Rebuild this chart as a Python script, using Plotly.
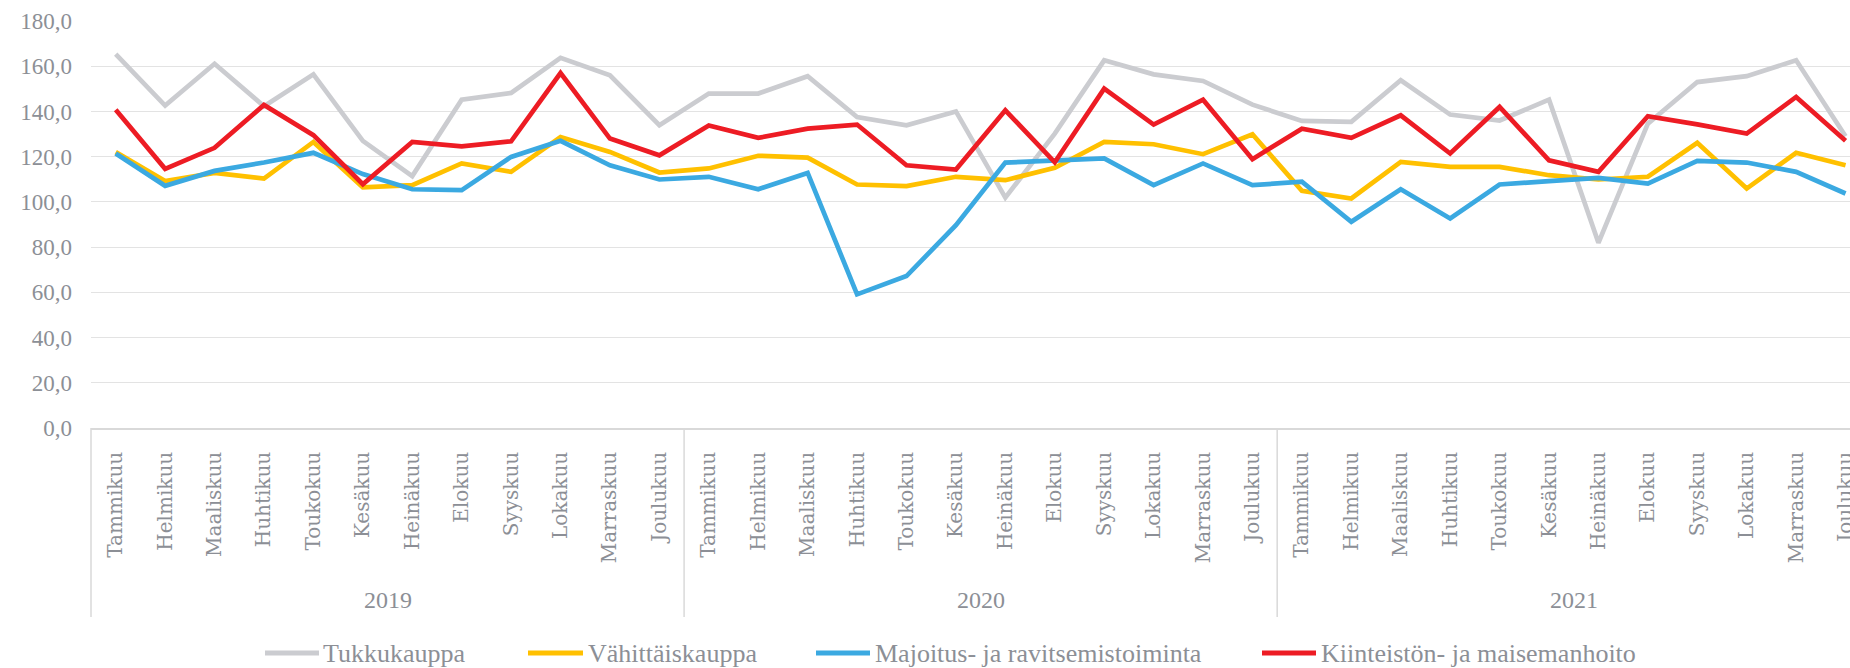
import plotly.graph_objects as go

# ---------------- data ----------------
years = ["2019", "2020", "2021"]
months = ["Tammikuu", "Helmikuu", "Maaliskuu", "Huhtikuu", "Toukokuu", "Kesäkuu",
          "Heinäkuu", "Elokuu", "Syyskuu", "Lokakuu", "Marraskuu", "Joulukuu"]
categories = [m for y in years for m in months]

series_names = ["Tukkukauppa", "Vähittäiskauppa",
                "Majoitus- ja ravitsemistoiminta", "Kiinteistön- ja maisemanhoito"]

tukkukauppa = [165.3, 142.6, 161.1, 142.3, 156.4, 127.0, 111.4, 145.2, 148.2, 163.7, 156.0, 133.9,
               147.9, 147.9, 155.6, 137.5, 133.9, 140.0, 101.9, 130.2, 162.6, 156.4, 153.5, 143.0,
               135.8, 135.4, 153.8, 138.6, 136.0, 145.2, 81.9, 134.6, 153.0, 155.6, 162.6, 129.0]

vahittaiskauppa = [122.0, 109.2, 112.8, 110.3, 126.5, 106.4, 107.4, 117.0, 113.3, 128.7, 122.1, 113.0,
                   114.8, 120.4, 119.6, 107.7, 107.0, 111.1, 109.6, 115.1, 126.5, 125.5, 121.1, 129.9,
                   104.9, 101.5, 117.7, 115.5, 115.5, 111.8, 109.9, 111.1, 126.1, 105.9, 121.7, 116.2]

majoitus = [121.4, 107.1, 113.7, 117.4, 121.7, 112.3, 105.6, 105.2, 119.9, 127.0, 116.2, 109.9,
            111.1, 105.6, 112.8, 59.1, 67.2, 89.7, 117.4, 118.4, 119.2, 107.4, 117.0, 107.4,
            108.9, 91.2, 105.6, 92.7, 107.7, 109.2, 110.6, 108.1, 118.1, 117.4, 113.3, 103.7]

kiinteisto = [140.8, 114.6, 123.9, 142.9, 129.5, 107.8, 126.5, 124.6, 126.8, 157.0, 128.0, 120.6,
              133.8, 128.3, 132.4, 134.2, 116.2, 114.3, 140.5, 117.5, 150.1, 134.2, 145.2, 118.9,
              132.4, 128.3, 138.3, 121.4, 142.0, 118.4, 113.3, 137.9, 134.3, 130.2, 146.4, 127.0]

y_ticks = [0, 20, 40, 60, 80, 100, 120, 140, 160, 180]

# ---------------- style ----------------
W, H = 1850, 668
ML, MT, MB = 91, 21, 240
PLOT_W = W - ML
PLOT_H = H - MT - MB

colors = ["#CBCCD0", "#FFC000", "#3BA9E1", "#ED1C24"]
TEXT = "#8C8F96"
GRID = "#E3E3E3"
AXIS = "#D9D9D9"

# legend layout (pixel positions of the key samples / labels in the page)
legend_sample_px = [(265, 319), (528, 583), (816, 870), (1262, 1316)]
legend_text_px = [322, 587, 874, 1320]
legend_y_px = 653


def px_to_paper_x(px):
    return (px - ML) / PLOT_W


def px_to_paper_y(py):
    return (H - MB - py) / PLOT_H


x_pos = list(range(len(categories)))
all_series = [tukkukauppa, vahittaiskauppa, majoitus, kiinteisto]

fig = go.Figure()
for name, vals, col in zip(series_names, all_series, colors):
    fig.add_trace(go.Scatter(
        x=x_pos, y=vals, mode="lines", name=name,
        line=dict(color=col, width=4.7),
        showlegend=False,
    ))

n_m = len(months)
div_bottom = px_to_paper_y(617)
shapes = [dict(type="line", xref="paper", yref="paper", x0=0, x1=0, y0=0, y1=div_bottom,
               line=dict(color=AXIS, width=1.5))]
for k in range(1, len(years)):
    xb = k * n_m - 0.5
    shapes.append(dict(type="line", xref="x", yref="paper", x0=xb, x1=xb, y0=0, y1=div_bottom,
                       line=dict(color=AXIS, width=1.5)))

annotations = []
year_y = px_to_paper_y(600)
for k, yr in enumerate(years):
    annotations.append(dict(x=k * n_m + (n_m - 1) / 2, xref="x", y=year_y, yref="paper",
                            text=yr, showarrow=False, yanchor="middle", xanchor="center",
                            font=dict(family="Liberation Serif", size=24, color=TEXT)))

# legend drawn as key lines + labels
ly = px_to_paper_y(legend_y_px)
for name, col, (s0, s1), tx in zip(series_names, colors, legend_sample_px, legend_text_px):
    shapes.append(dict(type="line", xref="paper", yref="paper",
                       x0=px_to_paper_x(s0), x1=px_to_paper_x(s1), y0=ly, y1=ly,
                       line=dict(color=col, width=5)))
    annotations.append(dict(x=px_to_paper_x(tx), xref="paper", y=ly, yref="paper",
                            text=name, showarrow=False, xanchor="left", yanchor="middle",
                            borderpad=0,
                            font=dict(family="Liberation Serif", size=26, color=TEXT)))

fig.update_layout(
    width=W, height=H,
    margin=dict(l=ML, r=0, t=MT, b=MB, autoexpand=False),
    paper_bgcolor="white", plot_bgcolor="white",
    separators=", ",
    font=dict(family="Liberation Serif", color=TEXT),
    showlegend=False,
    xaxis=dict(range=[-0.5, 35.09], tickmode="array", tickvals=x_pos, ticktext=categories,
               tickangle=-90, tickfont=dict(family="DejaVu Serif", size=20, color=TEXT),
               showgrid=False, showline=True, linecolor=AXIS, linewidth=1.5, ticks="",
               ticklabelstandoff=14, ticklabeloverflow="allow", zeroline=False),
    yaxis=dict(range=[0, 180], tickmode="array", tickvals=y_ticks, tickformat=".1f",
               showgrid=True, gridcolor=GRID, gridwidth=1.3, zeroline=False, showline=False,
               ticks="", tickfont=dict(family="Liberation Serif", size=23, color=TEXT),
               ticklabelstandoff=18),
    shapes=shapes,
    annotations=annotations,
)

fig.write_html("out.html",
               config={"displayModeBar": False},
               post_script="document.body.style.margin='0';document.body.style.overflow='hidden';")
